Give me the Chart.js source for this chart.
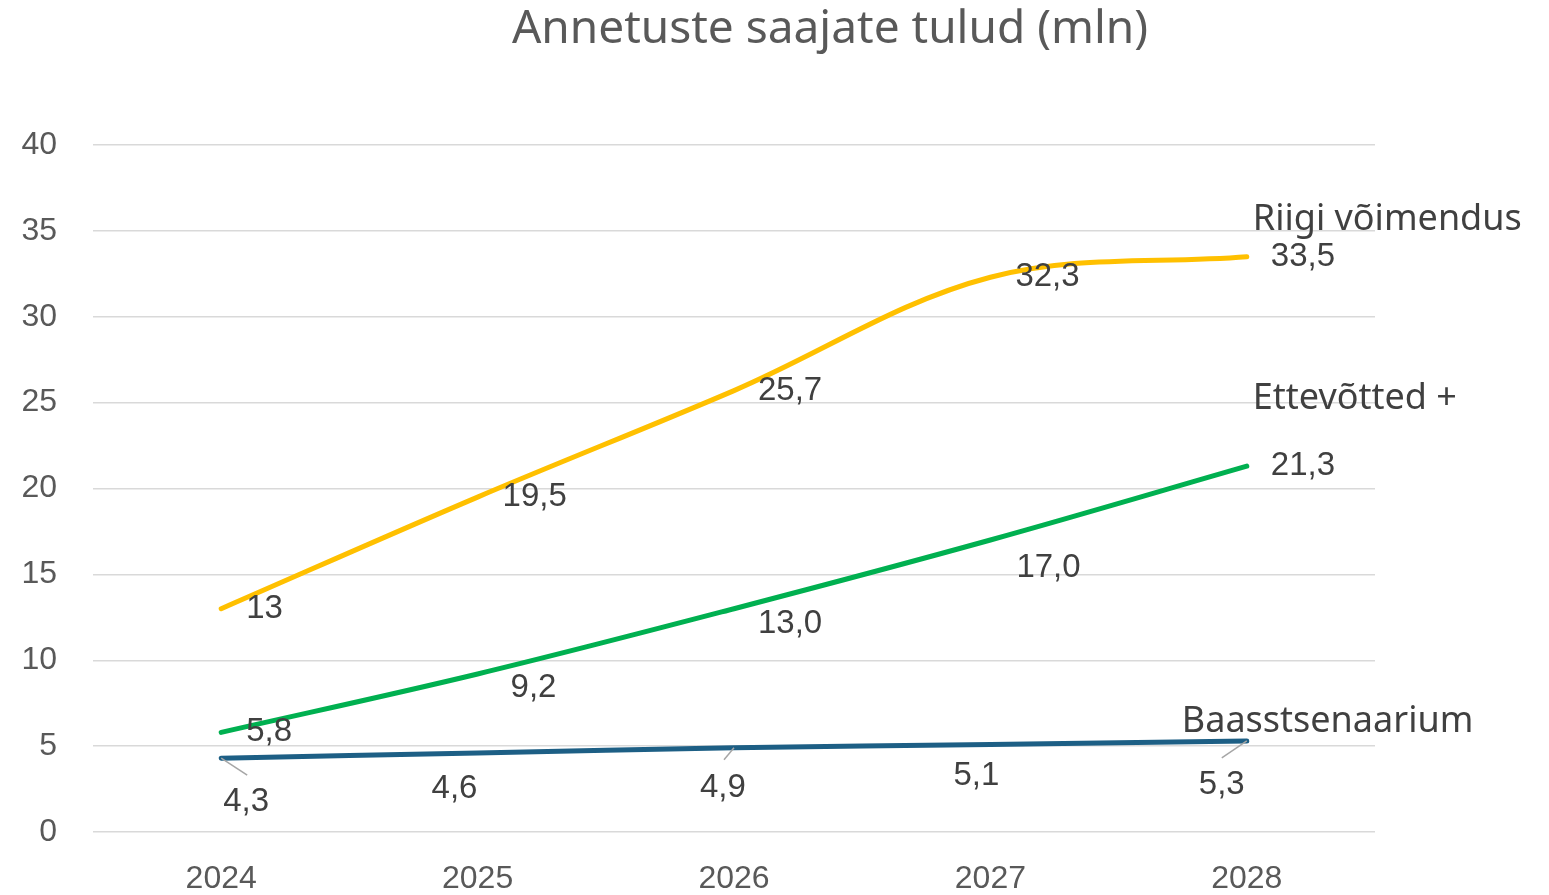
<!DOCTYPE html>
<html>
<head>
<meta charset="utf-8">
<script src="https://cdn.jsdelivr.net/npm/chart.js@4/dist/chart.umd.min.js"></script>
<style>
  html, body { margin: 0; padding: 0; background: #fff; }
  #wrap { width: 1549px; height: 895px; position: relative; }
</style>
</head>
<body>
<div id="wrap"><canvas id="chart" width="1549" height="895"></canvas></div>
<script>
// data
const years = ['2024', '2025', '2026', '2027', '2028'];
const riigiVoimendus = [13, 19.5, 25.7, 32.3, 33.5];
const ettevotted = [5.8, 9.2, 13.0, 17.0, 21.3];
const baasstsenaarium = [4.3, 4.6, 4.9, 5.1, 5.3];
const riigiLabels = ['13', '19,5', '25,7', '32,3', '33,5'];
const ettevotteLabels = ['5,8', '9,2', '13,0', '17,0', '21,3'];
const baasLabels = ['4,3', '4,6', '4,9', '5,1', '5,3'];
const seriesNames = ['Riigi võimendus', 'Ettevõtted +', 'Baasstsenaarium'];
const yTicks = [0, 5, 10, 15, 20, 25, 30, 35, 40];

// label placement (pixel offsets from the point, style only)
const labelOffsets = [
  [[25, 0], [25, 0], [24, 0], [25, 0], [24, 0]],
  [[25, 0], [33, 14], [24, 15], [26, 28], [24, 0]],
  [[2, 44], [-46, 36], [-34, 40], [-37, 31], [-48, 44]]
];
// leader lines: [series, point, dx, dy]
const leaders = [[2, 0, 26, 17], [2, 2, -10, 12], [2, 4, -25, 17]];
const nameOffsets = [[6, -37], [6, -67], [-65, -19]];

const labelSets = [riigiLabels, ettevotteLabels, baasLabels];

const labelPlugin = {
  id: 'labels',
  afterDatasetsDraw(chart) {
    const ctx = chart.ctx;
    ctx.save();
    // title
    ctx.fillStyle = '#595959';
    ctx.font = '46px "Noto Sans"';
    ctx.textAlign = 'center';
    ctx.textBaseline = 'middle';
    ctx.fillText('Annetuste saajate tulud (mln)', 830, 30);

    // leader lines
    ctx.strokeStyle = '#a6a6a6';
    ctx.lineWidth = 1.5;
    leaders.forEach(([i, j, dx, dy]) => {
      const pt = chart.getDatasetMeta(i).data[j];
      ctx.beginPath();
      ctx.moveTo(pt.x, pt.y);
      ctx.lineTo(pt.x + dx, pt.y + dy);
      ctx.stroke();
    });

    chart.data.datasets.forEach((ds, i) => {
      const meta = chart.getDatasetMeta(i);
      meta.data.forEach((pt, j) => {
        const off = labelOffsets[i][j];
        ctx.fillStyle = '#404040';
        ctx.font = '33px "Liberation Sans", Arial, sans-serif';
        ctx.textAlign = 'left';
        ctx.textBaseline = 'middle';
        ctx.fillText(labelSets[i][j], pt.x + off[0], pt.y + off[1]);
      });
      const last = meta.data[meta.data.length - 1];
      ctx.fillStyle = '#404040';
      ctx.font = '36px "Noto Sans"';
      ctx.textAlign = 'left';
      ctx.textBaseline = 'middle';
      ctx.fillText(seriesNames[i], last.x + nameOffsets[i][0], last.y + nameOffsets[i][1]);
    });
    ctx.restore();
  }
};

new Chart(document.getElementById('chart'), {
  type: 'line',
  data: {
    labels: years,
    datasets: [
      { label: seriesNames[0], data: riigiVoimendus, borderColor: '#FFC000' },
      { label: seriesNames[1], data: ettevotted, borderColor: '#00B050' },
      { label: seriesNames[2], data: baasstsenaarium, borderColor: '#1D5F85' }
    ].map(d => Object.assign(d, {
      borderWidth: 5,
      tension: 0.35,
      pointRadius: 0,
      fill: false,
      borderCapStyle: 'round'
    }))
  },
  options: {
    responsive: false,
    animation: false,
    devicePixelRatio: 1,
    layout: { padding: { top: 145, right: 174, left: 0, bottom: 0 } },
    plugins: { legend: { display: false }, tooltip: { enabled: false } },
    scales: {
      x: {
        offset: true,
        grid: { display: false, drawTicks: false },
        border: { display: false },
        ticks: { color: '#595959', font: { size: 32, family: '"Liberation Sans", Arial' }, padding: 28 },
        afterFit(scale) { scale.height = 63; }
      },
      y: {
        min: 0,
        max: 40,
        afterBuildTicks(scale) { scale.ticks = yTicks.map(v => ({ value: v })); },
        grid: { color: '#d9d9d9', lineWidth: 1.5, drawTicks: false },
        border: { display: false },
        ticks: { color: '#595959', font: { size: 32, family: '"Liberation Sans", Arial' }, padding: 36 },
        afterFit(scale) { scale.width = 93; }
      }
    }
  },
  plugins: [labelPlugin]
});
</script>
</body>
</html>
